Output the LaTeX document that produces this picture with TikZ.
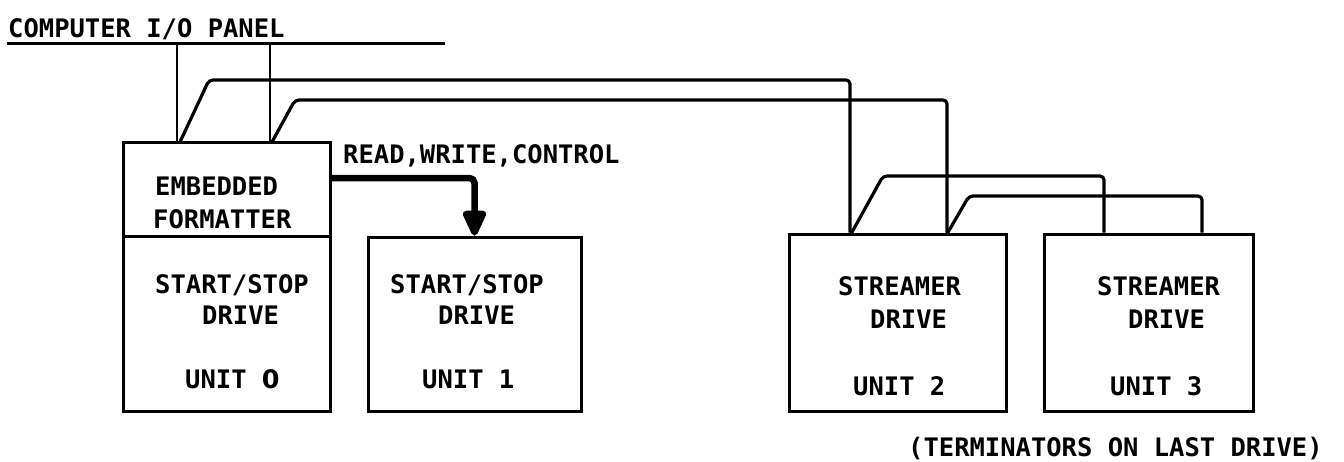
\documentclass[tikz,border=0pt]{standalone}
\usepackage{fontspec}
\newfontfamily\plotfont{DejaVu Sans Mono Bold}
\newfontfamily\zerofont{DejaVu Sans Bold}
\usetikzlibrary{arrows.meta}
\begin{document}
\begin{tikzpicture}[x=1pt,y=-1pt,
  txt/.style={font=\plotfont\fontsize{25.5}{30}\selectfont, inner sep=0pt, anchor=base west},
  unitbox/.style={draw, line width=3pt, inner sep=0pt},
  bus/.style={line width=3.2pt, rounded corners=4pt},
  drop/.style={line width=2.4pt},
  panel/.style={line width=3pt},
  ctrl/.style={line width=6.5pt, rounded corners=5pt, -{Triangle[length=30pt,width=25pt,round]}}]
\useasboundingbox (0,0) rectangle (1344,461);

% boxes
\node[unitbox, minimum width=207pt, minimum height=94pt] (fmt) at (226.5,189) {};
\node[unitbox, minimum width=207pt, minimum height=175pt] (u0) at (226.5,323.5) {};
\node[unitbox, minimum width=213pt, minimum height=174pt] (u1) at (474.5,324) {};
\node[unitbox, minimum width=217pt, minimum height=177pt] (u2) at (897.5,322.5) {};
\node[unitbox, minimum width=209pt, minimum height=177pt] (u3) at (1148.5,322.5) {};

% texts
\node[txt] (tpanel) at (8,37) {COMPUTER I/O PANEL};
\node[txt] (trw) at (343,163) {READ,WRITE,CONTROL};
\node[txt] (temb) at (155,195) {EMBEDDED};
\node[txt] (tfmt) at (153,228) {FORMATTER};
\node[txt] (ts0) at (155,293) {START/STOP};
\node[txt] (td0) at (202,324) {DRIVE};
\node[txt] (tu0) at (185,388) {UNIT {\zerofont 0}};
\node[txt] (ts1) at (390,293) {START/STOP};
\node[txt] (td1) at (438,324) {DRIVE};
\node[txt] (tu1) at (422,388) {UNIT 1};
\node[txt] (ts2) at (838,295) {STREAMER};
\node[txt] (td2) at (870,328) {DRIVE};
\node[txt] (tu2) at (853,395) {UNIT 2};
\node[txt] (ts3) at (1097,295) {STREAMER};
\node[txt] (td3) at (1128,328) {DRIVE};
\node[txt] (tu3) at (1110,395) {UNIT 3};
\node[txt] (tterm) at (908,456) {(TERMINATORS ON LAST DRIVE)};

% panel and drops
\coordinate (pl) at (7,43);
\coordinate (pr) at (445,43);
\draw[panel] (pl) -- (pr);
\coordinate (p1) at (177,43);
\coordinate (p2) at (270,43);
\draw[drop] (p1) -- (p1 |- fmt.north);
\draw[drop] (p2) -- (p2 |- fmt.north);

% bus A and B to unit 2
\coordinate (a0) at (180,142);
\coordinate (a1) at (209,80);
\coordinate (a2) at (850,80);
\draw[bus] (a0) -- (a1) -- (a2) -- (a2 |- u2.north);
\coordinate (b0) at (272,142);
\coordinate (b1) at (295,100);
\coordinate (b2) at (947,100);
\draw[bus] (b0) -- (b1) -- (b2) -- (b2 |- u2.north);

% bus C and D to unit 3
\coordinate (c0) at (851,234);
\coordinate (c1) at (883,176);
\coordinate (c2) at (1104,176);
\draw[bus] (c0) -- (c1) -- (c2) -- (c2 |- u3.north);
\coordinate (d0) at (947,234);
\coordinate (d1) at (969,196);
\coordinate (d2) at (1202,196);
\draw[bus] (d0) -- (d1) -- (d2) -- (d2 |- u3.north);

% read/write/control
\draw[ctrl] ([yshift=11pt]fmt.east) -| (u1.north);
\end{tikzpicture}
\end{document}
